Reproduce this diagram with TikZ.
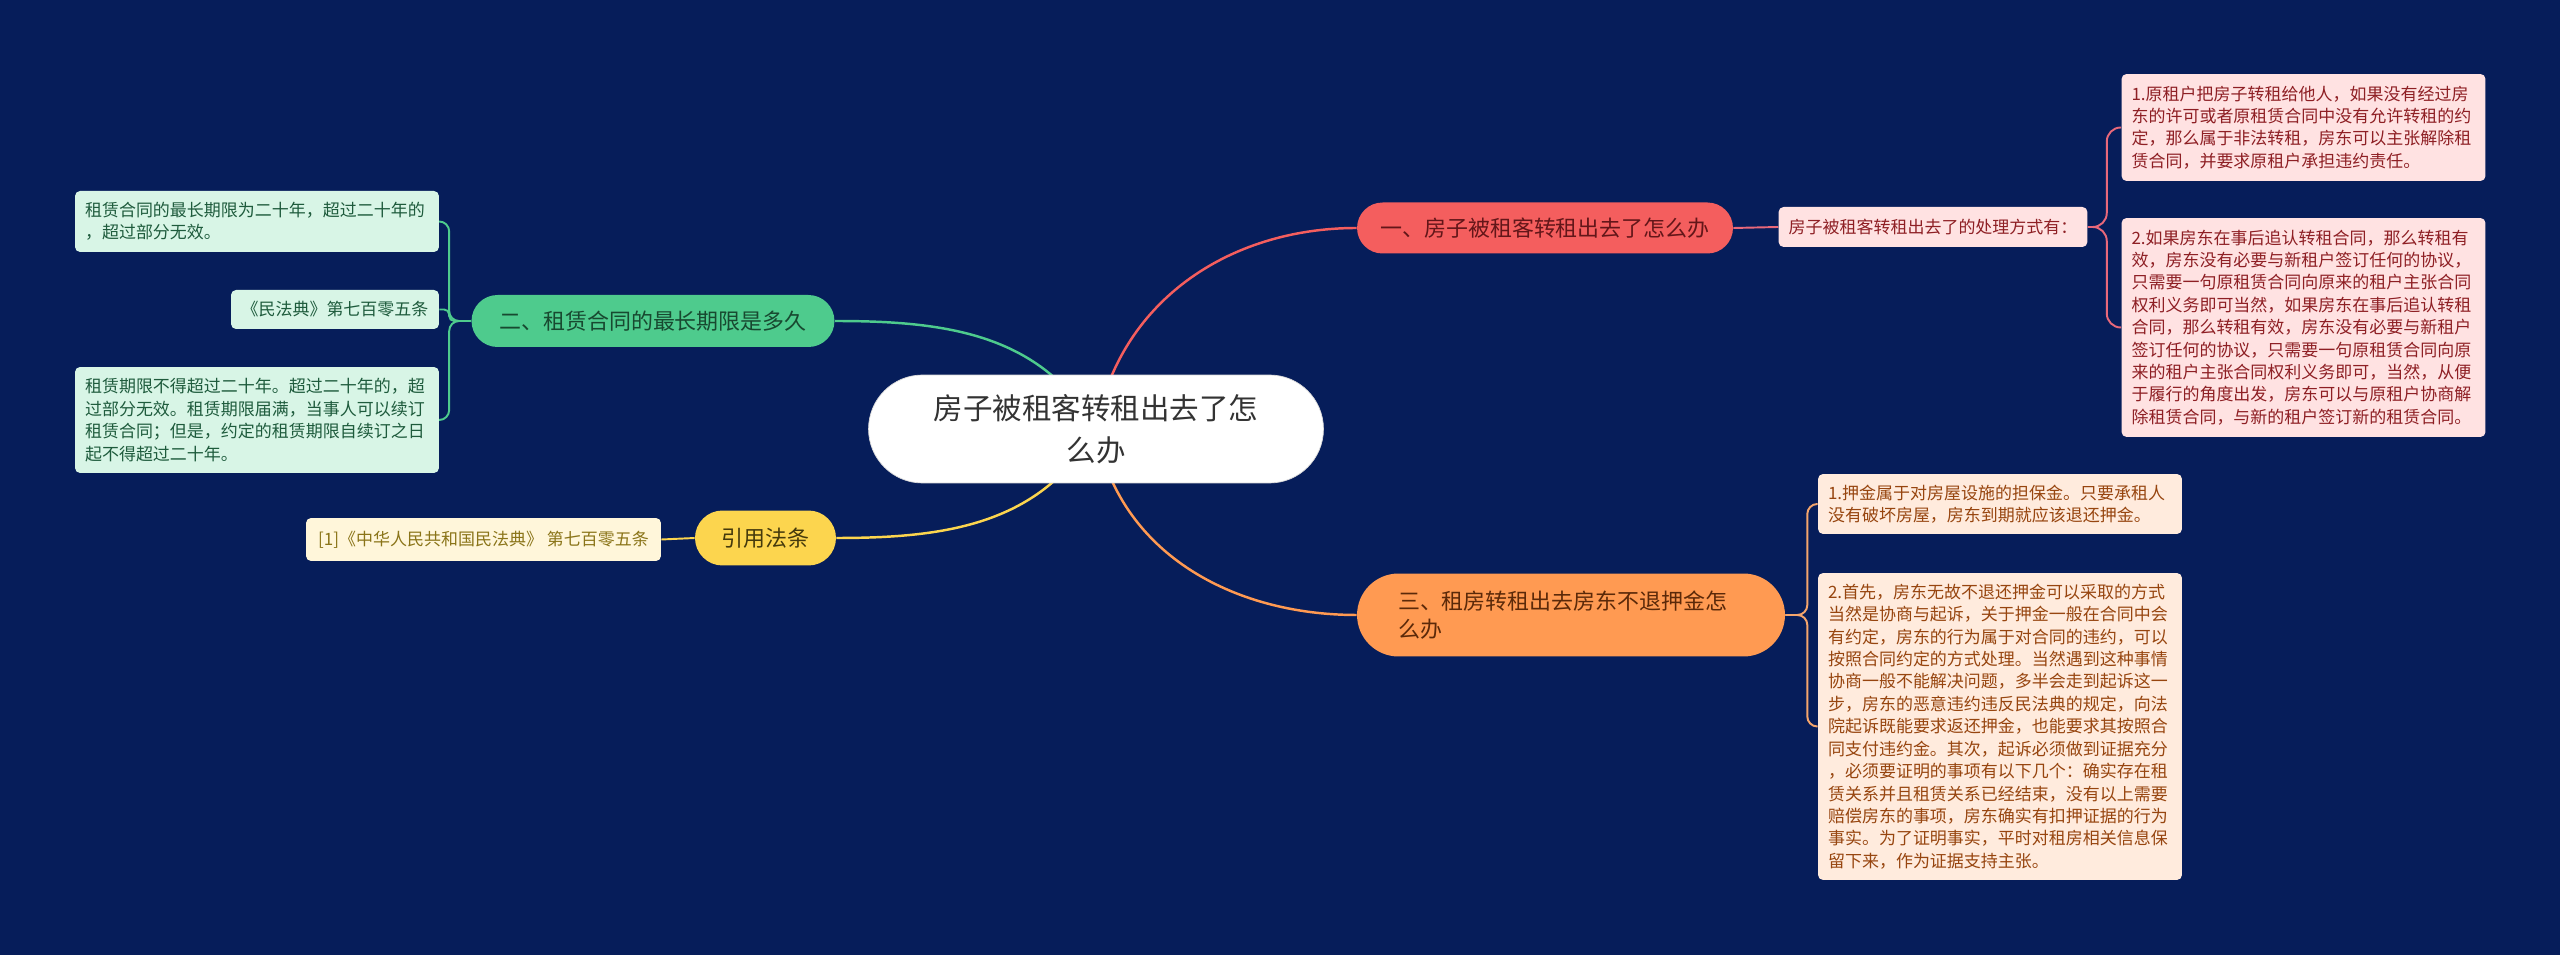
\documentclass[tikz,border=0pt]{standalone}
\usepackage{fontspec}
\setmainfont{Noto Sans CJK SC}
\usetikzlibrary{calc}

\definecolor{navy}{HTML}{061D5A}
\definecolor{redfill}{HTML}{F45E5E}
\definecolor{redink}{HTML}{8E1F24}
\definecolor{redleaf}{HTML}{FFE2E2}
\definecolor{redline}{HTML}{E8687A}
\definecolor{greenfill}{HTML}{4ECB8D}
\definecolor{greenink}{HTML}{1E5B3C}
\definecolor{greenleaf}{HTML}{D8F5E6}
\definecolor{orangefill}{HTML}{FF9A52}
\definecolor{orangeink}{HTML}{97450F}
\definecolor{orangeleaf}{HTML}{FFEBDD}
\definecolor{orangeline}{HTML}{F4A56C}
\definecolor{yellowfill}{HTML}{FCD54E}
\definecolor{yellowink}{HTML}{8A7418}
\definecolor{yellowleaf}{HTML}{FFF6DA}

\pgfdeclarelayer{bg}
\pgfdeclarelayer{links}
\pgfsetlayers{bg,links,main}

\tikzset{
	topic/.style={fill=white, draw=black!15, rounded corners=1.08cm, text=black!80,
		text width=6.7cm, align=center, inner xsep=1.2cm, inner ysep=0pt,
		minimum height=2.16cm, font=\fontsize{16.8pt}{23.9pt}\selectfont},
	branch/.style={inner sep=0pt, rounded corners=0.51cm, minimum height=1.02cm,
		font=\fontsize{12.5pt}{15.9pt}\selectfont},
	leaf/.style={rounded corners=0.1cm, inner xsep=0.2cm, inner ysep=0pt, align=left,
		font=\fontsize{9.67pt}{12.75pt}\selectfont},
	wide/.style={text width=6.88cm, minimum width=7.28cm},
	link/.style={line width=1.1pt},
	mainlink/.style={line width=1.4pt},
}

\begin{document}
\begin{tikzpicture}[x=0.02cm,y=-0.02cm]
		%%%%% START %%%%%
		
		\begin{pgfonlayer}{bg}
			\fill[navy] (0,0) rectangle (2560,955);
		\end{pgfonlayer}
		
		\node[topic] (root) at (1096,429) {房子被租客转租出去了怎\\么办};
		
		% first topic
		\node[branch, fill=redfill, text=redink!70!black, minimum width=7.52cm] (sublet) at (1545,228) {一、房子被租客转租出去了怎么办};
		\node[leaf, fill=redleaf, text=redink, minimum width=6.16cm, minimum height=0.8cm] (ways) at (1933,227) {房子被租客转租出去了的处理方式有：};
		\node[leaf, wide, fill=redleaf, text=redink, minimum height=2.14cm] (illegal) at (2303.5,127.5) {1.原租户把房子转租给他人，如果没有经过房\\东的许可或者原租赁合同中没有允许转租的约\\定，那么属于非法转租，房东可以主张解除租\\赁合同，并要求原租户承担违约责任。};
		\node[leaf, wide, fill=redleaf, text=redink, minimum height=4.38cm] (ratify) at (2303.5,327.5) {2.如果房东在事后追认转租合同，那么转租有\\效，房东没有必要与新租户签订任何的协议，\\只需要一句原租赁合同向原来的租户主张合同\\权利义务即可当然，如果房东在事后追认转租\\合同，那么转租有效，房东没有必要与新租户\\签订任何的协议，只需要一句原租赁合同向原\\来的租户主张合同权利义务即可，当然，从便\\于履行的角度出发，房东可以与原租户协商解\\除租赁合同，与新的租户签订新的租赁合同。};
		
		% second topic
		\node[branch, fill=greenfill, text=greenink!80!black, minimum width=7.26cm, minimum height=1.04cm, rounded corners=0.52cm] (term) at (653,321) {二、租赁合同的最长期限是多久};
		\node[leaf, wide, fill=greenleaf, text=greenink, minimum height=1.22cm] (maxterm) at (257,221.5) {租赁合同的最长期限为二十年，超过二十年的\\，超过部分无效。};
		\node[leaf, fill=greenleaf, text=greenink, minimum width=4.16cm, minimum height=0.78cm] (article) at (335,309.5) {《民法典》第七百零五条};
		\node[leaf, wide, fill=greenleaf, text=greenink, minimum height=2.12cm] (renew) at (257,420) {租赁期限不得超过二十年。超过二十年的，超\\过部分无效。租赁期限届满，当事人可以续订\\租赁合同；但是，约定的租赁期限自续订之日\\起不得超过二十年。};
		
		% third topic
		\node[branch, fill=orangefill, text=orangeink!60!black, text width=6.92cm, inner xsep=0.82cm, align=left, minimum height=1.66cm, rounded corners=0.83cm] (deposit) at (1571,615) {三、租房转租出去房东不退押金怎\\么办};
		\node[leaf, wide, fill=orangeleaf, text=orangeink, minimum height=1.2cm] (refund) at (2000,504) {1.押金属于对房屋设施的担保金。只要承租人\\没有破坏房屋，房东到期就应该退还押金。};
		\node[leaf, wide, fill=orangeleaf, text=orangeink, minimum height=6.14cm] (sue) at (2000,726.5) {2.首先，房东无故不退还押金可以采取的方式\\当然是协商与起诉，关于押金一般在合同中会\\有约定，房东的行为属于对合同的违约，可以\\按照合同约定的方式处理。当然遇到这种事情\\协商一般不能解决问题，多半会走到起诉这一\\步，房东的恶意违约违反民法典的规定，向法\\院起诉既能要求返还押金，也能要求其按照合\\同支付违约金。其次，起诉必须做到证据充分\\，必须要证明的事项有以下几个：确实存在租\\赁关系并且租赁关系已经结束，没有以上需要\\赔偿房东的事项，房东确实有扣押证据的行为\\事实。为了证明事实，平时对租房相关信息保\\留下来，作为证据支持主张。};
		
		% citation
		\node[branch, fill=yellowfill, text=yellowink!50!black, minimum width=2.82cm, minimum height=1.1cm, rounded corners=0.55cm] (cite) at (765.5,538) {引用法条};
		\node[leaf, fill=yellowleaf, text=yellowink, inner xsep=0.1cm, minimum width=7.1cm, minimum height=0.86cm] (civilcode) at (483.5,539.5) {[1]《中华人民共和国民法典》 第七百零五条};
		
		\begin{pgfonlayer}{links}
			\draw[mainlink, redfill] (root.center) to[out=80,in=180] (sublet.west);
			\draw[mainlink, greenfill] (root.center) to[out=120,in=0] (term.east);
			\draw[mainlink, yellowfill] (root.center) to[out=-120,in=0] (cite.east);
			\draw[mainlink, orangefill] (root.center) to[out=-80,in=180] (deposit.west);
			
			\draw[link, redline] (sublet.east) -- (ways.west);
			\draw[link, redline, rounded corners=0.28cm] (ways.east) -- ++(19,0) |- (illegal.west);
			\draw[link, redline, rounded corners=0.28cm] (ways.east) -- ++(19,0) |- (ratify.west);
			
			\draw[link, greenfill, rounded corners=0.2cm] (term.west) -- ++(-22,0) |- (maxterm.east);
			\draw[link, greenfill, rounded corners=0.1cm] (term.west) -- ++(-22,0) |- (article.east);
			\draw[link, greenfill, rounded corners=0.2cm] (term.west) -- ++(-22,0) |- (renew.east);
			
			\draw[link, orangeline, rounded corners=0.2cm] (deposit.east) -- ++(22,0) |- (refund.west);
			\draw[link, orangeline, rounded corners=0.2cm] (deposit.east) -- ++(22,0) |- (sue.west);
			
			\draw[link, yellowfill] (cite.west) -- (civilcode.east);
		\end{pgfonlayer}
		
		%%%%% END %%%%%
\end{tikzpicture}
\end{document}
